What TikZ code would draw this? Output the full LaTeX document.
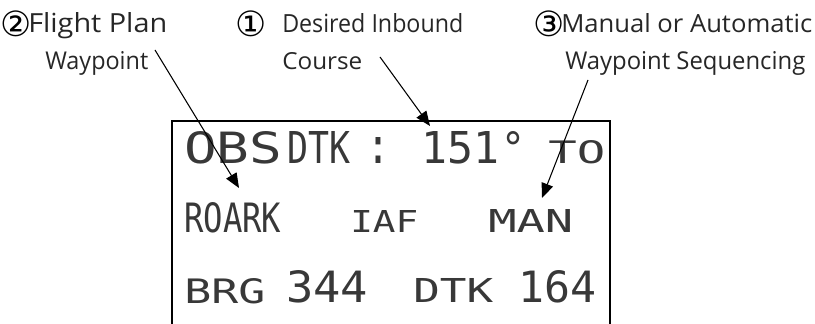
\documentclass[tikz,border=0pt]{standalone}
\usepackage{fontspec}
\setmainfont{Open Sans}
\newfontfamily\dmfont{DejaVu Sans Mono}
\newfontfamily\symfont{DejaVu Sans}
\usetikzlibrary{arrows.meta}
\newlength\pxu
\setlength\pxu{0.75pt}
\newcommand\dmtext[3]{\resizebox{#1\pxu}{#2\pxu}{\dmfont #3}}
\newcommand\antext[3]{\resizebox{#1\pxu}{#2\pxu}{#3}}
\newcommand\circnum[1]{\makebox[22\pxu]{\resizebox*{!}{26\pxu}{\symfont #1}}}
\begin{document}
\begin{tikzpicture}[x=0.75pt,y=-0.75pt,
  dm/.style={inner sep=0pt, anchor=base west, text=black!78},
  ann/.style={inner sep=0pt, anchor=base west, text=black!85},
  num/.style={inner sep=0pt, anchor=center, text=black},
  callout/.style={draw=black, line width=0.8pt, -{Triangle[length=11pt,width=9pt]}},
  frame/.style={draw=black, line width=1.2pt}]
\useasboundingbox (0,0) rectangle (815,324);
% display frame (open at the bottom)
\draw[frame] (172,324) -- (172,121) -- (610,121) -- (610,324);
% row 1
\node[dm] (obs)  at (184,164) {\dmtext{98}{32}{OBS}};
\node[dm] (dtk1) at (287,164) {\dmtext{63}{32}{DTK}};
\node[dm] (col)  at (366,164) {\dmtext{24}{26}{:}};
\node[dm] (crs)  at (421,164) {\dmtext{78}{32}{151}};
\node[dm] (deg)  at (501,164) {\dmtext{24}{32}{°}};
\node[dm] (to)   at (548,164) {\dmtext{57}{23}{TO}};
% row 2
\node[dm] (wpt)  at (184,233) {\dmtext{97}{30}{ROARK}};
\node[dm] (iaf)  at (350,233) {\dmtext{68}{22}{IAF}};
\node[dm] (man)  at (488,233) {\dmtext{85}{23}{MAN}};
% row 3
\node[dm] (brg)  at (184,303) {\dmtext{81}{25}{BRG}};
\node[dm] (brgv) at (286,303) {\dmtext{82}{32}{344}};
\node[dm] (dtk2) at (413,303) {\dmtext{80}{24}{DTK}};
\node[dm] (dtkv) at (518,303) {\dmtext{78}{32}{164}};
% annotations
\node[num] (n2) at (16,24) {\circnum{②}};
\node[ann] (a2a) at (28,33) {\antext{139}{20}{Flight Plan}};
\node[ann] (a2b) at (45,70) {\antext{103}{18}{Waypoint}};
\node[num] (n1) at (251,24) {\circnum{①}};
\node[ann] (a1a) at (282,33) {\antext{181}{19}{Desired Inbound}};
\node[ann] (a1b) at (282,70) {\antext{80}{17}{Course}};
\node[num] (n3) at (549,24) {\circnum{③}};
\node[ann] (a3a) at (561,33) {\antext{251}{19}{Manual or Automatic}};
\node[ann] (a3b) at (565,70) {\antext{240}{18}{Waypoint Sequencing}};
% callout connectors
\coordinate (s2) at (155,50);
\coordinate (t2) at (239,188);
\coordinate (s1) at (380,57);
\coordinate (t1) at (430,126);
\coordinate (s3) at (588,80);
\coordinate (t3) at (542,198);
\draw[callout] (s2) -- (t2);
\draw[callout] (s1) -- (t1);
\draw[callout] (s3) -- (t3);
\end{tikzpicture}
\end{document}
